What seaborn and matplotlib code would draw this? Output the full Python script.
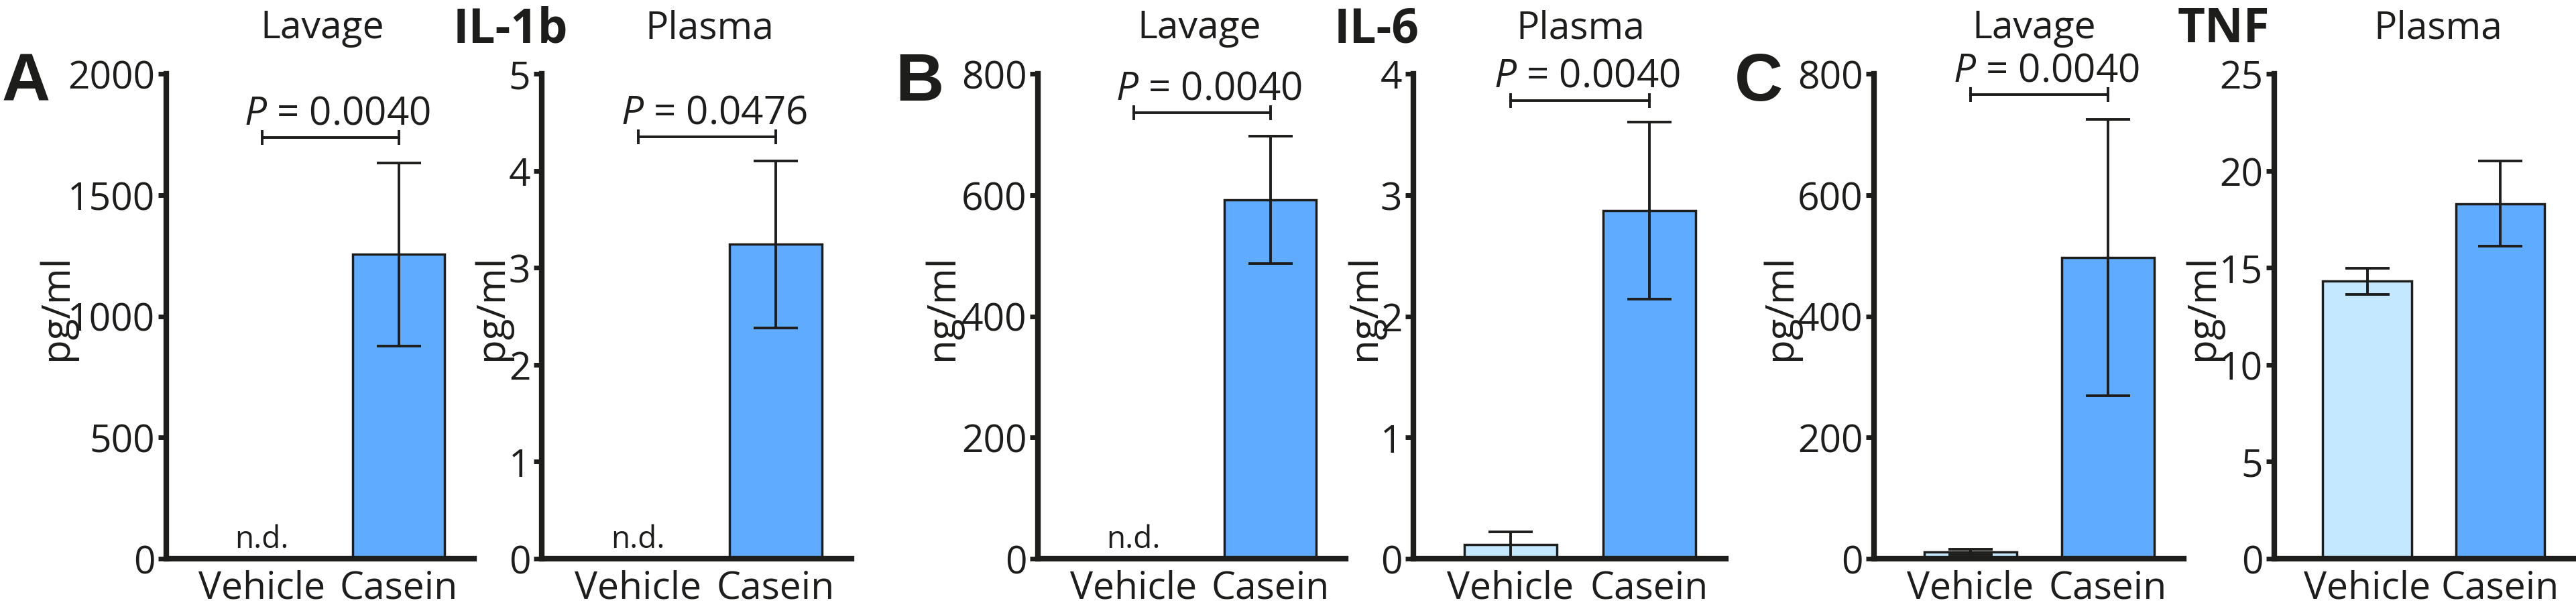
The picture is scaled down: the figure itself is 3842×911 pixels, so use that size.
import numpy as np
import matplotlib
matplotlib.use('Agg')
import matplotlib.pyplot as plt
import seaborn as sns

groups = ['Vehicle', 'Casein']

# mean and SEM (nan = not detected)
il1b_lavage_mean = [np.nan, 1255]
il1b_lavage_sem = [np.nan, 378]
il1b_plasma_mean = [np.nan, 3.24]
il1b_plasma_sem = [np.nan, 0.86]
il6_lavage_mean = [np.nan, 592]
il6_lavage_sem = [np.nan, 105]
il6_plasma_mean = [0.115, 2.87]
il6_plasma_sem = [0.105, 0.73]
tnf_lavage_mean = [11, 497]
tnf_lavage_sem = [4, 228]
tnf_plasma_mean = [14.3, 18.3]
tnf_plasma_sem = [0.67, 2.2]

p_values = ['0.0040', '0.0476', '0.0040', '0.0040', '0.0040', None]
units = ['pg/ml', 'pg/ml', 'ng/ml', 'ng/ml', 'pg/ml', 'pg/ml']
y_max = [2000, 5, 800, 4, 800, 25]
y_step = [500, 1, 200, 1, 200, 5]

cytokines = ['IL-1b', 'IL-6', 'TNF']
panel_letters = ['A', 'B', 'C']

sns.set_style('ticks')
plt.rcParams['font.family'] = ['Open Sans', 'DejaVu Sans']
plt.rcParams['mathtext.fontset'] = 'custom'
plt.rcParams['mathtext.it'] = 'Open Sans:italic'
plt.rcParams['mathtext.rm'] = 'Open Sans'

ink = '#1d1d1b'
palette = {'Vehicle': '#c4e8ff', 'Casein': '#5fabff'}

W, H = 3842, 912
fig = plt.figure(figsize=(W / 100, H / 100), dpi=100)

means = [il1b_lavage_mean, il1b_plasma_mean, il6_lavage_mean,
         il6_plasma_mean, tnf_lavage_mean, tnf_plasma_mean]
sems = [il1b_lavage_sem, il1b_plasma_sem, il6_lavage_sem,
        il6_plasma_sem, tnf_lavage_sem, tnf_plasma_sem]

# layout in pixels
ax_left = [248, 808, 1548, 2108, 2795, 3392]
ax_width = [459, 462, 459, 466, 462, 446]
ylab_x = [85, 734, 1406, 2036, 2656, 3286]
bracket_frac = [0.868, 0.87, 0.92, 0.945, 0.957, None]
ax_bottom, ax_top = 834, 111

for i in range(6):
    ax = fig.add_axes([ax_left[i] / W, (H - ax_bottom) / H,
                       ax_width[i] / W, (ax_bottom - ax_top) / H])
    sns.barplot(x=groups, y=means[i], hue=groups, order=groups, hue_order=groups,
                palette=palette, saturation=1, width=0.67, edgecolor=ink,
                linewidth=2.5, errorbar=None, legend=False, ax=ax)
    ax.errorbar([0, 1], means[i], yerr=sems[i], fmt='none', ecolor=ink,
                elinewidth=2.8, capsize=24, capthick=2.8, zorder=3)
    for j, m in enumerate(means[i]):
        if np.isnan(m):
            ax.annotate('n.d.', xy=(j, 0), xytext=(0, 12), textcoords='offset points',
                        ha='center', va='baseline', fontsize=33, color=ink)

    ax.set_xlim(-0.7, 1.55)
    ax.set_ylim(0, y_max[i])
    ax.set_yticks(np.arange(0, y_max[i] + y_step[i] / 2, y_step[i]))
    ax.yaxis.set_major_formatter(matplotlib.ticker.StrMethodFormatter('{x:g}'))
    ax.set_xlabel('')
    ax.set_ylabel('')
    sns.despine(ax=ax)
    for s in ['left', 'bottom']:
        ax.spines[s].set_linewidth(6)
        ax.spines[s].set_color(ink)
    ax.tick_params(axis='y', width=5, length=9, pad=3, labelsize=41,
                   colors=ink)
    ax.tick_params(axis='x', length=0, pad=11, labelsize=41, colors=ink)

    if p_values[i] is not None:
        y = bracket_frac[i] * y_max[i]
        ax.plot([0, 1], [y, y], color=ink, lw=2.8, marker='|', markersize=16,
                mew=2.8, clip_on=False)
        ax.annotate(r'$P$ = ' + p_values[i], xy=(0.55, y), xytext=(0, 15),
                    textcoords='offset points', ha='center', va='baseline',
                    fontsize=42, color=ink)

    fig.text(ylab_x[i] / W, 1 - 458 / H, units[i], rotation=90, ha='center',
             va='center', fontsize=42, color=ink)

# titles
lavage_x = [481, 1789, 3034]
plasma_x = [1058, 2357, 3636]
cyto_x = [761, 2053, 3316]
letter_x = [3, 1335, 2587]
for k in range(3):
    fig.text(lavage_x[k] / W, 1 - 57 / H, 'Lavage', ha='center', va='baseline',
             fontsize=41, color=ink)
    fig.text(plasma_x[k] / W, 1 - 57 / H, 'Plasma', ha='center', va='baseline',
             fontsize=41, color=ink)
    fig.text(cyto_x[k] / W, 1 - 63 / H, cytokines[k], ha='center', va='baseline',
             fontsize=51, fontweight='bold', color=ink)
    fig.text(letter_x[k] / W, 1 - 150 / H, panel_letters[k], ha='left',
             va='baseline', fontsize=72, fontweight='bold', color=ink,
             family=['Liberation Sans', 'DejaVu Sans'])

fig.savefig('out.png', dpi=100)
